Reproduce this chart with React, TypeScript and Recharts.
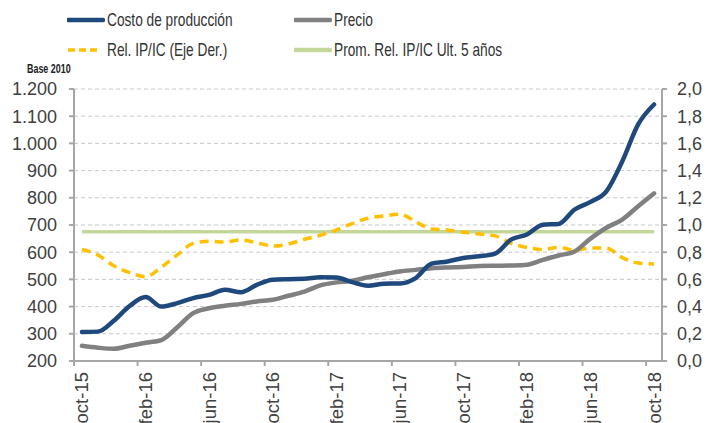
import { CartesianGrid, Line, LineChart, XAxis, YAxis } from "recharts";

const months = [
  "oct-15", "nov-15", "dic-15", "ene-16", "feb-16", "mar-16", "abr-16", "may-16", "jun-16",
  "jul-16", "ago-16", "sep-16", "oct-16", "nov-16", "dic-16", "ene-17", "feb-17", "mar-17",
  "abr-17", "may-17", "jun-17", "jul-17", "ago-17", "sep-17", "oct-17", "nov-17", "dic-17",
  "ene-18", "feb-18", "mar-18", "abr-18", "may-18", "jun-18", "jul-18", "ago-18", "sep-18", "oct-18",
];

// indice base 2010 (eje izq.)
const costo = [
  307, 308, 348, 402, 435, 400, 413, 431, 443, 462, 453, 480, 499, 501, 502, 508, 507, 490,
  477, 484, 485, 505, 558, 566, 579, 585, 595, 646, 665, 701, 704, 757, 785, 824, 934, 1070, 1143,
];
const precio = [
  256, 249, 245, 256, 267, 277, 324, 376, 394, 403, 410, 419, 425, 440, 455, 478, 489, 495,
  508, 519, 529, 535, 541, 544, 546, 549, 550, 551, 554, 572, 588, 603, 650, 690, 720, 769, 816,
];
// relacion IP/IC (eje der.)
const relIpIc = [
  0.82, 0.78, 0.7, 0.65, 0.62, 0.69, 0.78, 0.865, 0.88, 0.875, 0.89, 0.87, 0.845, 0.86, 0.895,
  0.925, 0.963, 1.01, 1.05, 1.066, 1.08, 1.025, 0.97, 0.963, 0.946, 0.934, 0.92, 0.865, 0.835,
  0.82, 0.835, 0.815, 0.83, 0.83, 0.76, 0.72, 0.713,
];
const promRel5 = 0.95;

const leftTicks = [200, 300, 400, 500, 600, 700, 800, 900, 1000, 1100, 1200];
const rightTicks = [0, 0.2, 0.4, 0.6, 0.8, 1, 1.2, 1.4, 1.6, 1.8, 2];
const monthTicks = [0, 4, 8, 12, 16, 20, 24, 28, 32, 36];

const data = months.map((m, i) => ({
  i,
  mes: m,
  costo: costo[i],
  precio: precio[i],
  rel: relIpIc[i],
  prom: promRel5,
}));

const W = 707;
const H = 423;
const LEFT_W = 74;
const RIGHT_W = 45;
const HALF_BAND = (W - LEFT_W - RIGHT_W) / months.length / 2;
const AXIS = "#a6a6a6";
const TXT = "#404040";
const FONT = "'Liberation Sans', Arial, sans-serif";

function MonthTick(props: any) {
  const { x, y, payload } = props;
  const axisY = y - 10;
  return (
    <g>
      <line x1={x - HALF_BAND} x2={x - HALF_BAND} y1={axisY} y2={axisY + 5} stroke={AXIS} strokeWidth={2} />
      <text
        x={x}
        y={y + 1}
        dy="0.35em"
        transform={`rotate(-90, ${x}, ${y + 1})`}
        textAnchor="end"
        fill={TXT}
        fontSize={18.5}
        fontFamily={FONT}
      >
        {months[payload.value]}
      </text>
    </g>
  );
}

function LegendItem({ label, color, dashed, left, top }: any) {
  return (
    <div style={{ position: "absolute", left, top, display: "flex", alignItems: "center", whiteSpace: "nowrap" }}>
      <svg width={38} height={8} style={{ marginRight: 2 }}>
        <line
          x1={1}
          x2={dashed ? 30 : 36}
          y1={4}
          y2={4}
          stroke={color}
          strokeWidth={dashed ? 3.5 : 4.5}
          strokeDasharray={dashed ? "7 4" : undefined}
          strokeLinecap={dashed ? "butt" : "round"}
        />
      </svg>
      <span
        style={{
          fontFamily: FONT,
          fontSize: 18.5,
          color: "#333",
          display: "inline-block",
          transform: "scaleX(0.74)",
          transformOrigin: "left center",
        }}
      >
        {label}
      </span>
    </div>
  );
}

export default function App() {
  return (
    <div style={{ position: "absolute", left: 0, top: 0, width: W, height: H, background: "#fff", overflow: "hidden" }}>
      <LegendItem label="Costo de producción" color="#1f497d" left={67} top={9} />
      <LegendItem label="Precio" color="#808080" left={294} top={9} />
      <LegendItem label="Rel. IP/IC (Eje Der.)" color="#ffc000" dashed left={67} top={39} />
      <LegendItem label="Prom. Rel. IP/IC Ult. 5 años" color="#c4d79b" left={294} top={39} />
      <div
        style={{
          position: "absolute",
          left: 27,
          top: 61,
          fontFamily: FONT,
          fontWeight: "bold",
          fontSize: 13.5,
          color: "#222",
          whiteSpace: "nowrap",
          transform: "scaleX(0.66)",
          transformOrigin: "left center",
        }}
      >
        Base 2010
      </div>
      <LineChart width={W} height={H} data={data} margin={{ top: 89, right: 0, bottom: 0, left: 0 }}>
        <CartesianGrid yAxisId="left" vertical={false} stroke="#c8c8c8" strokeDasharray="4 3" />
        <XAxis
          dataKey="i"
          type="number"
          domain={[-0.5, months.length - 0.5]}
          ticks={monthTicks}
          interval={0}
          height={62}
          tick={<MonthTick />}
          tickLine={false}
          tickSize={5}
          tickMargin={5}
          axisLine={{ stroke: AXIS, strokeWidth: 2 }}
        />
        <YAxis
          yAxisId="left"
          width={LEFT_W}
          domain={[200, 1200]}
          ticks={leftTicks}
          interval={0}
          tickSize={5}
          tickMargin={12}
          tickFormatter={(v: number) => v.toLocaleString("de-DE")}
          tick={{ fill: TXT, fontSize: 18, fontFamily: FONT }}
          axisLine={{ stroke: AXIS, strokeWidth: 2 }}
          tickLine={{ stroke: AXIS, strokeWidth: 2 }}
        />
        <YAxis
          yAxisId="right"
          orientation="right"
          width={RIGHT_W}
          domain={[0, 2]}
          ticks={rightTicks}
          interval={0}
          tickSize={5}
          tickMargin={10}
          tickFormatter={(v: number) => v.toFixed(1).replace(".", ",")}
          tick={{ fill: TXT, fontSize: 18, fontFamily: FONT, textAnchor: "start" }}
          axisLine={{ stroke: AXIS, strokeWidth: 2 }}
          tickLine={{ stroke: AXIS, strokeWidth: 2 }}
        />
        <Line yAxisId="right" dataKey="prom" stroke="#c4d79b" strokeWidth={3.5} dot={false} isAnimationActive={false} />
        <Line yAxisId="right" type="monotone" dataKey="rel" stroke="#ffc000" strokeWidth={3.5} strokeDasharray="9 6" dot={false} isAnimationActive={false} />
        <Line yAxisId="left" type="monotone" dataKey="precio" stroke="#808080" strokeWidth={4.5} strokeLinecap="round" dot={false} isAnimationActive={false} />
        <Line yAxisId="left" type="monotone" dataKey="costo" stroke="#1f497d" strokeWidth={4.5} strokeLinecap="round" dot={false} isAnimationActive={false} />
      </LineChart>
    </div>
  );
}
